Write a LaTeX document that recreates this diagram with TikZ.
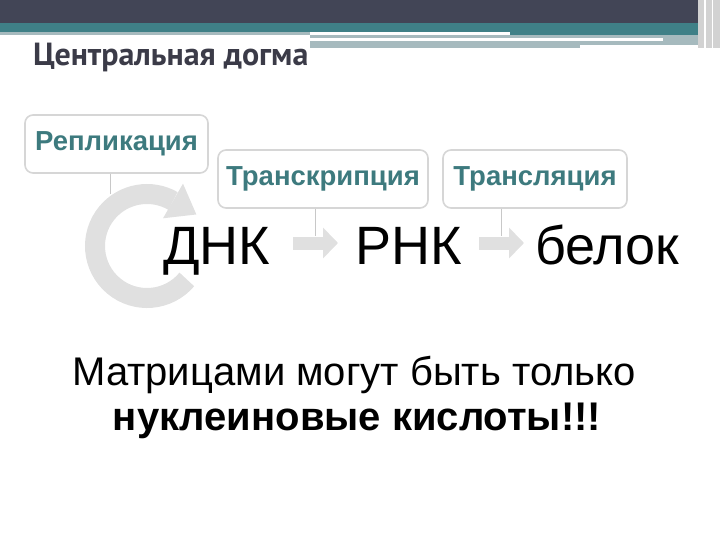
\documentclass[tikz,border=0pt]{standalone}
\usepackage{fontspec}
\setmainfont{Liberation Sans}
\newfontfamily\titlefont{PT Sans}
\usetikzlibrary{arrows.meta}
\usetikzlibrary{calc,positioning}
\definecolor{bardark}{HTML}{424556}
\definecolor{barteal}{HTML}{3F8087}
\definecolor{barpale}{HTML}{A6BABE}
\definecolor{titlegray}{HTML}{3B3B48}
\definecolor{labelteal}{HTML}{3D7A7E}
\definecolor{boxline}{HTML}{D6D6D6}
\definecolor{arrowgray}{HTML}{E0E0E0}
\definecolor{stemgray}{HTML}{C8C8C8}

\begin{document}
\begin{tikzpicture}[x=1pt,y=-1pt]
	\tikzstyle{stage}=[draw=boxline, line width=1.6pt, rounded corners=8pt, fill=white,
	text=labelteal, font=\bfseries\fontsize{27.5}{27.5}\selectfont,
	minimum height=58pt, inner sep=0pt]
	\tikzstyle{molecule}=[font=\fontsize{54}{54}\selectfont, inner sep=0pt, anchor=base west]
	\tikzstyle{stem}=[stemgray, line width=1pt]
	\tikzstyle{flow}=[arrowgray, line width=13pt, -{Triangle[length=15pt, width=30pt]}]
	\useasboundingbox (0,0) rectangle (720,540);
	% slide header
	\fill[bardark] (0,0) rectangle (698,23);
	\fill[barteal] (0,23) rectangle (698,32);
	\fill[barteal] (510,32) rectangle (698,35);
	\fill[barpale] (0,32) rectangle (310,35);
	\fill[barpale] (310,35) rectangle (698,45);
	\fill[barpale] (310,45) rectangle (580,48);
	\fill[white] (310,38) rectangle (663,41);
	\fill[gray!35] (698,0) rectangle (720,48);
	\fill[white] (704,0) rectangle (706,48);
	\fill[white] (712,0) rectangle (713,48);
	\node[anchor=base west, inner sep=0pt, text=titlegray,
		font=\titlefont\bfseries\fontsize{32}{32}\selectfont] (title) at (33,66) {Центральная догма};
	% stages
	\node[stage, minimum width=183pt] (repl) at (116.5,144) {Репликация};
	\node[stage, minimum width=210pt] (transcr) at (323,179) {Транскрипция};
	\node[stage, minimum width=184pt] (transl) at (535,179) {Трансляция};
	% molecules
	\node[molecule] (dna) at (163,264) {ДНК};
	\node[molecule] (rna) at (355,264) {РНК};
	\node[molecule] (prot) at (535,264) {белок};
	% replication loop
	\coordinate (loop) at (147,246);
	\draw[stem] (repl.south -| 110,0) -- ++(0,20);
	\draw[arrowgray, line width=20pt] ($(loop)+(-40:52pt)$) arc[start angle=-40, end angle=-300, radius=52pt];
	\fill[arrowgray] ($(loop)+(60:72pt)$) -- ($(loop)+(60:52pt)+(-30:27pt)$) -- ($(loop)+(60:32pt)$) -- cycle;
	% transcription and translation
	\coordinate (a1) at (293,243);
	\coordinate (b1) at (338,243);
	\coordinate (a2) at (479,243);
	\coordinate (b2) at (524,243);
	\draw[stem] (transcr.south -| 315,0) -- (315,236);
	\draw[stem] (transl.south -| 501,0) -- (501,236);
	\draw[flow] (a1) -- (b1);
	\draw[flow] (a2) -- (b2);
	% note
	\node[anchor=base, inner sep=0pt, font=\fontsize{40}{40}\selectfont] (note) at (354,385) {Матрицами могут быть только};
	\node[anchor=base, inner sep=0pt, font=\bfseries\fontsize{40}{40}\selectfont] (notebold) at (357,430) {нуклеиновые кислоты!!!};
\end{tikzpicture}
\end{document}
